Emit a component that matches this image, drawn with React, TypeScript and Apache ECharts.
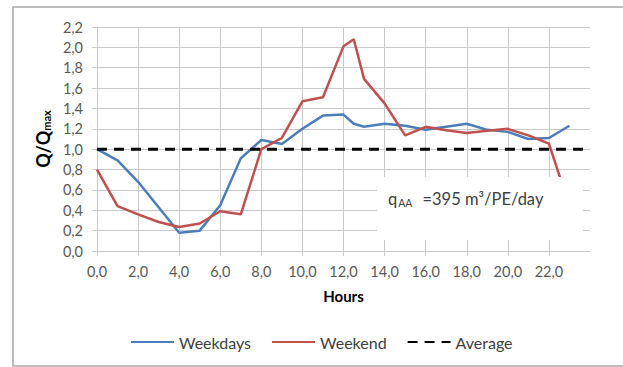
import React, { useEffect, useRef } from "react";
import * as echarts from "echarts";

const hours = [0, 1, 2, 3, 4, 5, 6, 7, 8, 9, 10, 11, 12, 12.5, 13, 14, 15, 16, 17, 18, 19, 20, 21, 22, 23];
const weekdays = [1.0, 0.89, 0.68, 0.43, 0.18, 0.2, 0.45, 0.91, 1.09, 1.05, 1.2, 1.33, 1.34, 1.25, 1.22, 1.25, 1.23, 1.19, 1.22, 1.25, 1.19, 1.17, 1.1, 1.11, 1.23];
const weekend = [0.8, 0.44, 0.36, 0.285, 0.236, 0.27, 0.39, 0.36, 1.0, 1.11, 1.47, 1.51, 2.01, 2.08, 1.69, 1.45, 1.136, 1.22, 1.185, 1.16, 1.18, 1.2, 1.136, 1.055, 0.44];
const averageHours = [0, 24];
const averageValues = [1.0, 1.0];
const xTicks = [0, 2, 4, 6, 8, 10, 12, 14, 16, 18, 20, 22];

const FONT = "Lato";
const GRID = "#c9c9c9";

const fmt = (v: number) => v.toFixed(1).replace(".", ",");

export default function App() {
  const ref = useRef<HTMLDivElement>(null);
  useEffect(() => {
    if (!ref.current) return;
    const chart = echarts.init(ref.current, undefined, { renderer: "svg" });
    const pair = (xs: number[], ys: number[]) => xs.map((x, i) => [x, ys[i]]);
    chart.setOption({
      animation: false,
      backgroundColor: "#ffffff",
      textStyle: { fontFamily: FONT },
      grid: { left: 97, right: 33, top: 27, bottom: 116, containLabel: false },
      xAxis: {
        type: "value",
        min: 0,
        max: 24,
        interval: 2,
        name: "Hours",
        nameLocation: "middle",
        nameGap: 37,
        nameTextStyle: { fontFamily: FONT, fontSize: 15, fontWeight: "bold", color: "#000" },
        axisLine: { show: true, lineStyle: { color: GRID, width: 1 } },
        axisTick: { show: true, length: 5, lineStyle: { color: GRID }, customValues: xTicks },
        axisLabel: { customValues: xTicks, formatter: fmt, margin: 13, fontFamily: FONT, fontSize: 14.5, color: "#595959" },
        splitLine: { show: true, lineStyle: { color: GRID, width: 1 } },
      },
      yAxis: {
        type: "value",
        min: 0,
        max: 2.2,
        interval: 0.2,
        name: "{a|Q/Q}{b|max}",
        nameLocation: "middle",
        nameGap: 42,
        nameTextStyle: {
          rich: {
            a: { fontFamily: FONT, fontSize: 18, fontWeight: "bold", color: "#000" },
            b: { fontFamily: FONT, fontSize: 11, fontWeight: "bold", color: "#000", verticalAlign: "bottom", padding: [7, 0, 0, 0] },
          },
        },
        axisLine: { show: true, lineStyle: { color: GRID, width: 1 } },
        axisTick: { show: true, length: 5, lineStyle: { color: GRID } },
        axisLabel: { formatter: fmt, margin: 14, fontFamily: FONT, fontSize: 14.5, color: "#595959" },
        splitLine: { show: true, lineStyle: { color: GRID, width: 1 } },
      },
      legend: {
        left: 125,
        top: 329,
        itemWidth: 43,
        itemHeight: 14,
        itemGap: 20,
        itemStyle: { opacity: 0 },
        textStyle: { fontFamily: FONT, fontSize: 16, color: "#404040" },
        data: ["Weekdays", "Weekend", "Average"],
      },
      series: [
        {
          name: "Weekdays",
          type: "line",
          data: pair(hours, weekdays),
          symbol: "none",
          lineStyle: { color: "#4a7ebb", width: 2.5 },
          itemStyle: { color: "#4a7ebb" },
        },
        {
          name: "Weekend",
          type: "line",
          data: pair(hours, weekend),
          symbol: "none",
          lineStyle: { color: "#c0504d", width: 2.5 },
          itemStyle: { color: "#c0504d" },
        },
        {
          name: "Average",
          type: "line",
          data: pair(averageHours, averageValues),
          symbol: "none",
          lineStyle: { color: "#000000", width: 3, type: [10, 7] },
          itemStyle: { color: "#000000" },
        },
      ],
      graphic: [
        {
          type: "rect",
          z: 100,
          shape: { x: 377, y: 177, width: 206, height: 63 },
          style: { fill: "#ffffff" },
        },
        {
          type: "text",
          z: 101,
          x: 388,
          y: 199,
          style: {
            text: "{a|q}{b|AA}{a|=395 m³/PE/day}",
            verticalAlign: "middle",
            rich: {
              a: { fontFamily: FONT, fontSize: 16.5, fill: "#404040" },
              b: { fontFamily: FONT, fontSize: 10.5, fill: "#404040", verticalAlign: "bottom", padding: [7, 10, 0, 1] },
            },
          },
        },
        {
          type: "rect",
          z: 100,
          shape: { x: 13, y: 7, width: 640, height: 359 },
          style: { fill: "none", stroke: "#a6a6a6", lineWidth: 1.5 },
        },
      ],
    });
    return () => chart.dispose();
  }, []);
  return <div ref={ref} style={{ position: "absolute", left: 0, top: 0, width: 623, height: 367 }} />;
}
